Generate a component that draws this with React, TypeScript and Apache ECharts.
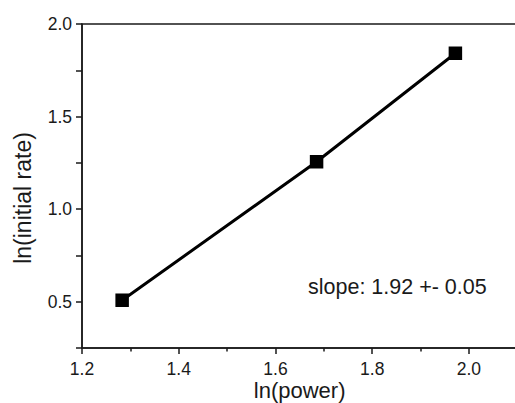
import React, { useEffect, useRef } from "react";
import * as echarts from "echarts";

const lnPower: number[] = [1.283, 1.685, 1.972];
const lnRate: number[] = [0.508, 1.256, 1.842];
const xTicks = { min: 1.2, max: 2.1, interval: 0.2 };
const yTicks = { min: 0.25, max: 2.0, interval: 0.25 };
const xTitle = "ln(power)";
const yTitle = "ln(initial rate)";
const annotation = "slope: 1.92 +- 0.05";

const FONT = "Liberation Sans, Arial, sans-serif";
const INK = "#1a1a1a";

export default function App() {
  const ref = useRef<HTMLDivElement>(null);
  useEffect(() => {
    if (!ref.current) return;
    const chart = echarts.init(ref.current, null, { renderer: "svg" });
    const data = lnPower.map((x, i) => [x, lnRate[i]]);
    chart.setOption({
      animation: false,
      backgroundColor: "#ffffff",
      grid: {
        left: 82,
        top: 24,
        bottom: 55,
        right: -2.3,
        containLabel: false,
        outerBoundsMode: "none",
        show: true,
        borderColor: INK,
        borderWidth: 1.5,
        backgroundColor: "transparent",
      },
      xAxis: {
        type: "value",
        min: xTicks.min,
        max: xTicks.max,
        interval: xTicks.interval,
        name: xTitle,
        nameLocation: "middle",
        nameGap: 31,
        nameMoveOverlap: false,
        nameTextStyle: { fontFamily: FONT, fontSize: 22, color: INK },
        axisLine: { show: true, lineStyle: { color: INK, width: 1.5 } },
        axisTick: { show: true, inside: false, length: 6, lineStyle: { color: INK, width: 1.5 } },
        minorTick: { show: true, splitNumber: 2, length: 3.5, lineStyle: { color: INK, width: 1.5 } },
        splitLine: { show: false },
        axisLabel: {
          fontFamily: FONT,
          fontSize: 17.5,
          lineHeight: 17,
          color: INK,
          margin: 12,
          formatter: (v: number) => (v > 2.05 ? "" : v.toFixed(1)),
        },
      },
      yAxis: {
        type: "value",
        min: yTicks.min,
        max: yTicks.max,
        interval: yTicks.interval,
        name: yTitle,
        nameLocation: "middle",
        nameGap: 48,
        nameMoveOverlap: false,
        nameTextStyle: { fontFamily: FONT, fontSize: 23, color: INK, padding: [0, 24, 0, 0] },
        axisLine: { show: true, lineStyle: { color: INK, width: 1.5 } },
        axisTick: { show: true, inside: false, length: 6, lineStyle: { color: INK, width: 1.5 } },
        splitLine: { show: false },
        axisLabel: {
          fontFamily: FONT,
          fontSize: 17.5,
          color: INK,
          margin: 10,
          formatter: (v: number) => {
            const r = Math.round(v * 100);
            return r % 50 === 0 ? v.toFixed(1) : "";
          },
        },
      },
      series: [
        {
          type: "line",
          data,
          symbol: "rect",
          symbolSize: 13.5,
          itemStyle: { color: "#000" },
          lineStyle: { color: "#000", width: 3 },
        },
      ],
      graphic: [
        {
          type: "text",
          left: 308,
          top: 276,
          style: {
            text: annotation,
            fontFamily: FONT,
            fontSize: 21.5,
            fill: INK,
          },
        },
      ],
    });
    return () => chart.dispose();
  }, []);
  return (
    <div
      ref={ref}
      style={{ position: "absolute", left: 0, top: 0, width: 515, height: 403, overflow: "hidden" }}
    />
  );
}
